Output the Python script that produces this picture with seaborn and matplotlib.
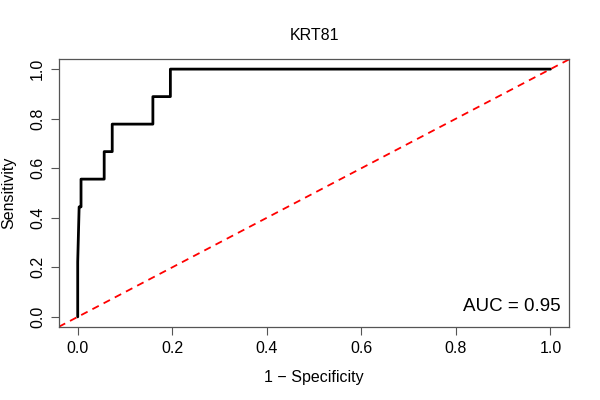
import seaborn as sns
import matplotlib.pyplot as plt
import pandas as pd

# ROC curve points (steps of 1/9 in sensitivity)
fpr = [0.0, 0.0, 0.003, 0.007, 0.007, 0.056, 0.056, 0.073, 0.073, 0.159, 0.159, 0.196, 0.196, 1.0]
tpr = [0.0, 0.222, 0.444, 0.444, 0.556, 0.556, 0.667, 0.667, 0.778, 0.778, 0.889, 0.889, 1.0, 1.0]
ticks = [0.0, 0.2, 0.4, 0.6, 0.8, 1.0]
title = "KRT81"
auc_text = "AUC = 0.95"

sns.set_style("ticks")
plt.rcParams['font.family'] = ['Liberation Sans', 'DejaVu Sans']
plt.rcParams['text.color'] = 'black'
plt.rcParams['axes.labelcolor'] = 'black'
plt.rcParams['xtick.labelcolor'] = 'black'
plt.rcParams['ytick.labelcolor'] = 'black'

roc = pd.DataFrame({"fpr": fpr, "tpr": tpr})

fig = plt.figure(figsize=(6, 4), dpi=100)
ax = fig.add_axes([0.098, 0.183, 0.851, 0.669])

sns.lineplot(data=roc, x="fpr", y="tpr", sort=False, estimator=None,
             color="black", linewidth=2, ax=ax)
ax.axline((0, 0), (1, 1), color="red", linestyle=(0, (4, 3)), linewidth=1.3)

ax.set_xlim(-0.04, 1.04)
ax.set_ylim(-0.04, 1.04)
ax.set_xticks(ticks)
ax.set_yticks(ticks)
ax.set_xticklabels([f"{t:.1f}" for t in ticks], fontsize=11.5)
ax.set_yticklabels([f"{t:.1f}" for t in ticks], fontsize=11.5, rotation=90, va="center")
ax.tick_params(length=6, width=0.8, color="#555555", pad=4)
for s in ax.spines.values():
    s.set_color("#555555")
    s.set_linewidth(0.9)

ax.set_xlabel("1 \u2212 Specificity", fontsize=11.5, labelpad=10)
ax.set_ylabel("Sensitivity", fontsize=11.5, labelpad=10)
ax.set_title(title, fontsize=11.5, pad=14)
ax.text(0.982, 0.045, auc_text, transform=ax.transAxes, ha="right", va="bottom", fontsize=13.5)

fig.savefig("out.png", dpi=100)
